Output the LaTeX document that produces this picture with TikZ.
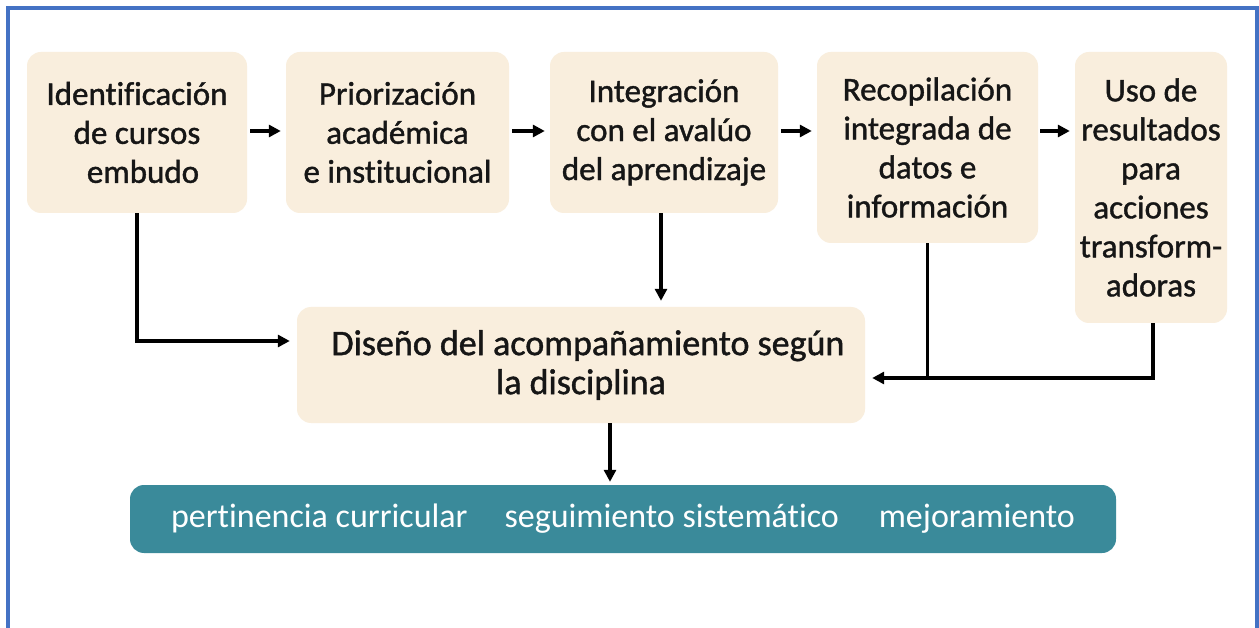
\documentclass[tikz,border=0pt]{standalone}
\usepackage{fontspec}
\setmainfont[Ligatures=NoCommon]{Carlito}
\newfontfamily\boxfont[Ligatures=NoCommon, FakeBold=1.2]{Carlito}
\usetikzlibrary{arrows.meta}
\definecolor{cream}{RGB}{249,238,221}
\definecolor{tealbar}{RGB}{58,138,154}
\definecolor{frameblue}{RGB}{68,114,196}
\definecolor{ink}{RGB}{22,22,22}
\tikzset{
  stepbox/.style={fill=cream, rounded corners=14pt, inner sep=0pt, align=center,
    text=ink, font=\boxfont\fontsize{33}{39}\selectfont},
  bigbox/.style={stepbox, font=\boxfont\fontsize{36}{39}\selectfont},
  tealbox/.style={fill=tealbar, rounded corners=14pt, inner sep=0pt, text=white,
    font=\fontsize{34}{39}\selectfont},
  arr/.style={draw=black, line width=3.2pt, -{Triangle[length=12pt,width=12pt]}},
  conn/.style={draw=black, line width=3.2pt},
  frame/.style={draw=frameblue, line width=4pt}
}
\begin{document}
\begin{tikzpicture}[x=1pt,y=-1pt]
\useasboundingbox (0,0) rectangle (1259,628);
\fill[white] (0,0) rectangle (1259,628);
\draw[frame] (8,630) -- (8,8.5) -- (1256.5,8.5) -- (1256.5,630);

\node[stepbox, minimum width=220pt, minimum height=161pt] (b1) at (137,132.5)
  {Identificación\\de cursos\\\hspace*{12pt}embudo};
\node[stepbox, minimum width=223pt, minimum height=161pt] (b2) at (397.5,132.5)
  {Priorización\\académica\\e institucional};
\node[stepbox, minimum width=228pt, minimum height=161pt] (b3) at (664,132.5)
  {Integración\\con el avalúo\\del aprendizaje};
\node[stepbox, minimum width=221pt, minimum height=191pt] (b4) at (927.5,147.5)
  {Recopilación\\integrada de\\datos e\\información};
\node[stepbox, minimum width=152pt, minimum height=271pt] (b5) at (1151,187.5)
  {Uso de\\resultados\\para\\acciones\\transform-\\adoras};
\node[bigbox, minimum width=568pt, minimum height=116pt] (d) at (581,365)
  {\hspace*{14pt}Diseño del acompañamiento según\\la disciplina};
\node[tealbox, minimum width=986pt, minimum height=68pt] (t) at (623,519)
  {pertinencia curricular\hspace{37pt}seguimiento sistemático\hspace{40pt}mejoramiento};

\coordinate (r1) at (0,131);
\coordinate (j1) at (137,341);
\coordinate (j2) at (1153,378);

\draw[arr, shorten <=3pt, shorten >=5pt] (b1.east |- r1) -- (b2.west |- r1);
\draw[arr, shorten <=3pt, shorten >=5pt] (b2.east |- r1) -- (b3.west |- r1);
\draw[arr, shorten <=3pt, shorten >=5pt] (b3.east |- r1) -- (b4.west |- r1);
\draw[arr, shorten <=2pt, shorten >=5pt] (b4.east |- r1) -- (b5.west |- r1);

\draw[arr, shorten >=7pt] (b1.south) -- (j1) -- (j1 -| d.west);
\draw[arr, shorten >=6pt] ([xshift=-3pt]b3.south) -- ([xshift=-3pt]b3.south |- d.north);
\draw[conn] (b4.south) -- (b4.south |- j2);
\draw[arr, shorten >=7pt] (b5.south -| j2) -- (j2) -- (j2 -| d.east);
\draw[arr, shorten >=3pt] ([xshift=29pt]d.south) -- ([xshift=29pt]d.south |- t.north);
\end{tikzpicture}
\end{document}
